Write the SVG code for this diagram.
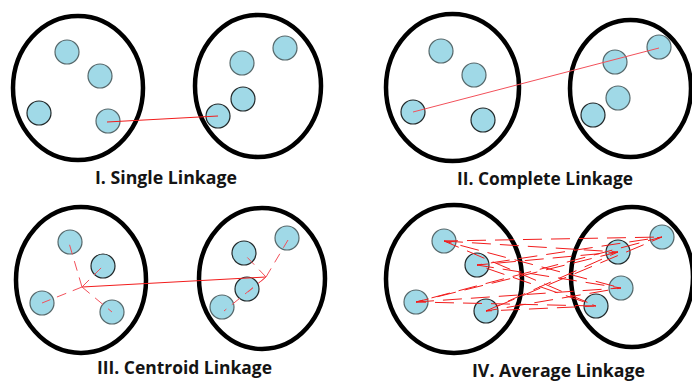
<svg xmlns="http://www.w3.org/2000/svg" width="692" height="381" viewBox="0 0 692 381">
  <style>
    .cluster { fill: none; stroke: #000; stroke-width: 4.5; }
    .pt { fill: #a0d9e7; stroke: #56686b; stroke-width: 1.2; }
    .pt.k { stroke: #22292a; }
    .link { stroke: #f21c1c; stroke-width: 1; fill: none; }
    .soft { stroke: #f2505a; }
    .dash { stroke-dasharray: 10 7; }
    .avg { stroke-dasharray: 19 9; }
    .label { font-family: "Open Sans", "Liberation Sans", sans-serif; font-weight: bold; font-size: 18px; fill: #141414; }
  </style>
  <rect width="692" height="381" fill="#fff"/>

  <!-- I. Single Linkage -->
  <g id="single">
    <g id="single-a">
      <ellipse class="cluster" cx="78" cy="88" rx="65" ry="72"/>
      <circle class="pt" cx="67" cy="52" r="12"/>
      <circle class="pt" cx="100" cy="76" r="12"/>
      <circle class="pt k" cx="39" cy="113" r="12"/>
      <circle class="pt" cx="108" cy="121" r="12"/>
    </g>
    <g id="single-b">
      <ellipse class="cluster" cx="258" cy="86" rx="63" ry="71"/>
      <circle class="pt" cx="242" cy="63" r="12"/>
      <circle class="pt" cx="285" cy="48" r="12"/>
      <circle class="pt k" cx="243" cy="99" r="12"/>
      <circle class="pt k" cx="218" cy="116" r="12"/>
    </g>
    <text class="label" x="95" y="184" textLength="142" lengthAdjust="spacingAndGlyphs">I. Single Linkage</text>
  </g>

  <!-- II. Complete Linkage -->
  <g id="complete">
    <g id="complete-a">
      <ellipse class="cluster" cx="452.5" cy="87.5" rx="66.5" ry="73.5"/>
      <circle class="pt" cx="441" cy="51" r="12"/>
      <circle class="pt" cx="474" cy="75" r="12"/>
      <circle class="pt k" cx="413" cy="112" r="12"/>
      <circle class="pt k" cx="483" cy="120" r="12"/>
    </g>
    <g id="complete-b">
      <ellipse class="cluster" cx="630.5" cy="88.5" rx="60.5" ry="68.5"/>
      <circle class="pt" cx="615" cy="62" r="12"/>
      <circle class="pt" cx="659" cy="47" r="12"/>
      <circle class="pt" cx="618" cy="98" r="12"/>
      <circle class="pt k" cx="593" cy="115" r="12"/>
    </g>
    <text class="label" x="457" y="185" textLength="176" lengthAdjust="spacingAndGlyphs">II. Complete Linkage</text>
  </g>

  <!-- III. Centroid Linkage -->
  <g id="centroid">
    <g id="centroid-a">
      <ellipse class="cluster" cx="81" cy="280" rx="65" ry="73"/>
      <circle class="pt" cx="70" cy="242" r="12"/>
      <circle class="pt k" cx="103" cy="266" r="12"/>
      <circle class="pt" cx="42" cy="303" r="12"/>
      <circle class="pt" cx="112" cy="312" r="12"/>
    </g>
    <g id="centroid-b">
      <ellipse class="cluster" cx="262" cy="278.5" rx="63" ry="70.5"/>
      <circle class="pt k" cx="244" cy="253" r="12"/>
      <circle class="pt" cx="287" cy="238" r="12"/>
      <circle class="pt k" cx="247" cy="289" r="12"/>
      <circle class="pt" cx="222" cy="307" r="12"/>
    </g>
    <text class="label" x="97" y="374" textLength="175" lengthAdjust="spacingAndGlyphs">III. Centroid Linkage</text>
  </g>

  <!-- IV. Average Linkage -->
  <g id="average">
    <g id="average-a">
      <ellipse class="cluster" cx="454" cy="279" rx="68" ry="74"/>
      <circle class="pt" cx="444" cy="241" r="12"/>
      <circle class="pt k" cx="477" cy="265" r="12"/>
      <circle class="pt" cx="416" cy="302" r="12"/>
      <circle class="pt k" cx="486" cy="311" r="12"/>
    </g>
    <g id="average-b">
      <ellipse class="cluster" cx="632" cy="277" rx="61" ry="70"/>
      <circle class="pt k" cx="618" cy="252" r="12"/>
      <circle class="pt" cx="662" cy="237" r="12"/>
      <circle class="pt" cx="621" cy="288" r="12"/>
      <circle class="pt k" cx="596" cy="306" r="12"/>
    </g>
    <text class="label" x="472" y="377" textLength="173" lengthAdjust="spacingAndGlyphs">IV. Average Linkage</text>
  </g>

  <!-- connectors -->
  <g id="connectors">
    <!-- single: closest pair -->
    <line class="link" x1="107" y1="122" x2="218" y2="116"/>
    <!-- complete: farthest pair -->
    <line class="link soft" x1="413" y1="112" x2="659" y2="48"/>
    <!-- centroid: centre to centre, members to their centre -->
    <line class="link" x1="82" y1="287" x2="266" y2="277"/>
    <line class="link soft dash" x1="82" y1="287" x2="69" y2="243"/>
    <line class="link soft dash" x1="82" y1="287" x2="103" y2="266"/>
    <line class="link soft dash" x1="82" y1="287" x2="42" y2="303"/>
    <line class="link soft dash" x1="82" y1="287" x2="112" y2="312"/>
    <line class="link soft dash" x1="266" y1="277" x2="245" y2="255"/>
    <line class="link soft dash" x1="266" y1="277" x2="288" y2="240"/>
    <line class="link soft dash" x1="266" y1="277" x2="248" y2="292"/>
    <line class="link soft dash" x1="266" y1="277" x2="224" y2="311"/>
    <!-- average: every pair -->
    <g class="avg">
      <line class="link" x1="444" y1="241" x2="618" y2="252" stroke-dashoffset="0"/>
      <line class="link" x1="444" y1="241" x2="662" y2="237" stroke-dashoffset="5"/>
      <line class="link" x1="444" y1="241" x2="621" y2="288" stroke-dashoffset="11"/>
      <line class="link" x1="444" y1="241" x2="596" y2="306" stroke-dashoffset="3"/>
      <line class="link" x1="477" y1="265" x2="618" y2="252" stroke-dashoffset="8"/>
      <line class="link" x1="477" y1="265" x2="662" y2="237" stroke-dashoffset="14"/>
      <line class="link" x1="477" y1="265" x2="621" y2="288" stroke-dashoffset="2"/>
      <line class="link" x1="477" y1="265" x2="596" y2="306" stroke-dashoffset="18"/>
      <line class="link" x1="416" y1="302" x2="618" y2="252" stroke-dashoffset="6"/>
      <line class="link" x1="416" y1="302" x2="662" y2="237" stroke-dashoffset="12"/>
      <line class="link" x1="416" y1="302" x2="621" y2="288" stroke-dashoffset="1"/>
      <line class="link" x1="416" y1="302" x2="596" y2="306" stroke-dashoffset="9"/>
      <line class="link" x1="486" y1="311" x2="618" y2="252" stroke-dashoffset="4"/>
      <line class="link" x1="486" y1="311" x2="662" y2="237" stroke-dashoffset="16"/>
      <line class="link" x1="486" y1="311" x2="621" y2="288" stroke-dashoffset="7"/>
      <line class="link" x1="486" y1="311" x2="596" y2="306" stroke-dashoffset="13"/>
    </g>
  </g>
</svg>
